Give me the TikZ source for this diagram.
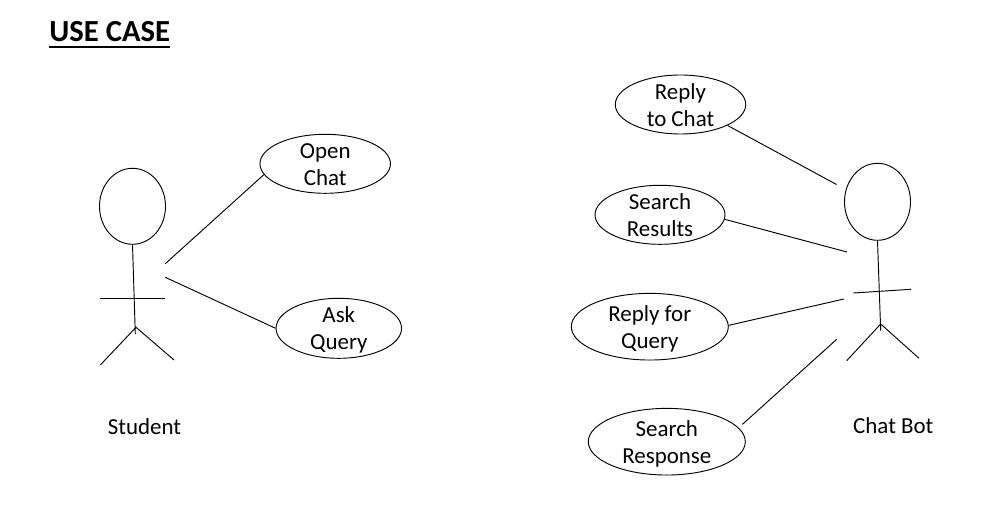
\documentclass[tikz,border=0pt]{standalone}
\usepackage{fontspec}
\setmainfont{Carlito}
\usetikzlibrary{shapes.geometric}
\tikzset{
  usecase/.style={draw=black,ellipse,line width=0.7pt,minimum width=#1,inner sep=0pt,font=\fontsize{17.2pt}{20.25pt}\selectfont},
  head/.style={draw=black,ellipse,line width=0.7pt,inner sep=0pt},
  lbl/.style={inner sep=0pt,anchor=base,font=\fontsize{17.2pt}{20.25pt}\selectfont},
  ln/.style={draw=black,line width=0.7pt}
}
\newcommand{\twolines}[2]{\raisebox{-6.35pt}[0pt][0pt]{\begin{tabular}{@{}c@{}}#1\\#2\end{tabular}}}
\begin{document}
\begin{tikzpicture}[x=0.75pt,y=-0.75pt]
\useasboundingbox (0,0) rectangle (1006,524);
\node[inner sep=0pt,anchor=base,font=\fontsize{23pt}{26pt}\selectfont\bfseries] (title) at (109.7,41.2) {\vtop{\hbox{USE CASE}\kern3.1pt\hrule height 1.8pt}};
% use cases
\node[usecase=130.5*0.75pt,minimum height=44.25pt] (open) at (325.2,163.8) {\twolines{Open}{Chat}};
\node[usecase=125.5*0.75pt,minimum height=45pt] (ask) at (338.8,328.3) {\twolines{Ask}{Query}};
\node[usecase=130.5*0.75pt,minimum height=44.25pt] (reply) at (680.5,104.5) {\twolines{Reply}{to Chat}};
\node[usecase=130*0.75pt,minimum height=44.25pt] (search) at (660,214.8) {\twolines{Search}{Results}};
\node[usecase=157*0.75pt,minimum height=50pt] (rq) at (649.8,326.7) {\twolines{Reply for}{Query}};
\node[usecase=157*0.75pt,minimum height=50pt] (sr) at (666.8,441.7) {\twolines{Search}{Response}};
% student
\node[head,minimum width=49.5pt,minimum height=57pt] (h1) at (132.5,206.3) {};
\coordinate (n1) at (135.3,334);
\coordinate (c1) at (136,327.3);
\coordinate (a1l) at (100.3,298.3);
\coordinate (a1r) at (165.3,298.3);
\coordinate (f1l) at (100.3,365);
\coordinate (f1r) at (174,360);
\draw[ln] (h1.south) -- (n1);
\draw[ln] (a1l) -- (a1r);
\draw[ln] (f1l) -- (c1) -- (f1r);
\node[lbl] (student) at (144.5,434.3) {Student};
\coordinate (s1) at (165.3,263.7);
\coordinate (s2) at (165.3,277.3);
\draw[ln] (s1) -- (open.190);
\draw[ln] (s2) -- (ask.west);
% bot
\node[head,minimum width=49.5pt,minimum height=57.75pt] (h2) at (877.5,201.8) {};
\coordinate (n2) at (880.7,330.7);
\coordinate (c2) at (880.7,324);
\coordinate (a2l) at (853.3,293);
\coordinate (a2r) at (911,289.3);
\coordinate (f2l) at (846.7,360.7);
\coordinate (f2r) at (919,358.3);
\draw[ln] (h2.south) -- (n2);
\draw[ln] (a2l) -- (a2r);
\draw[ln] (f2l) -- (c2) -- (f2r);
\node[lbl] (bot) at (893.3,433.7) {Chat Bot};
\coordinate (b1) at (836.5,184.5);
\coordinate (b2) at (847,252);
\coordinate (b3) at (844,299);
\coordinate (b4) at (836.7,339.3);
\draw[ln] (b1) -- (reply.-24);
\draw[ln] (b2) -- (search.-4);
\draw[ln] (b3) -- (rq.1.2);
\draw[ln,shorten >=3.75pt] (b4) -- (sr.11.5);
\end{tikzpicture}
\end{document}
